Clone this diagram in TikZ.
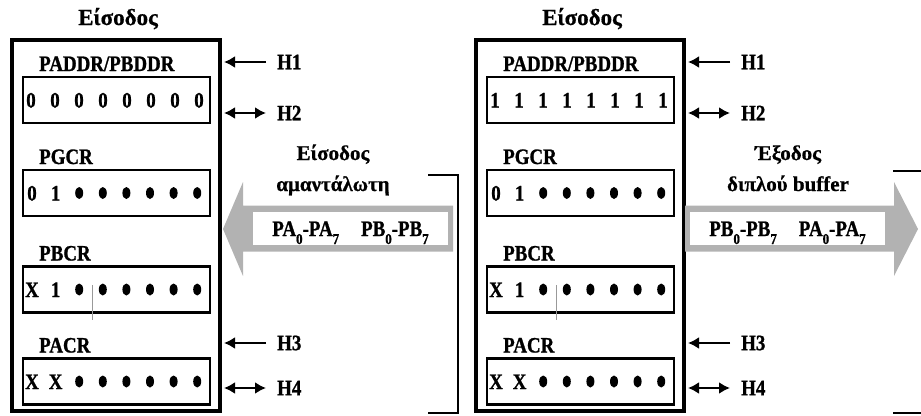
\documentclass[tikz,border=0pt]{standalone}
\usepackage{fontspec}
\setmainfont{Liberation Serif}[FakeStretch=0.86,FakeBold=1]
\newfontfamily\wide{Liberation Serif}[FakeBold=0.6]
\usetikzlibrary{arrows.meta}

% lowered index for the port pins
\newcommand\idx[1]{\raisebox{-8pt}{\fontsize{15}{15}\selectfont#1}}

\begin{document}
\begin{tikzpicture}[x=1pt,y=-1pt,font=\bfseries,
  panel/.style={draw,line width=4pt,minimum width=208pt,minimum height=371pt,inner sep=0pt},
  reg/.style={draw,line width=2.6pt,minimum width=187pt,minimum height=46pt,inner sep=0pt},
  lbl/.style={font=\fontsize{22}{22}\selectfont\bfseries,inner sep=0pt},
  bit/.style={lbl,anchor=base},
  hsig/.style={lbl,anchor=west,inner xsep=11pt},
  ttl/.style={font=\wide\fontsize{21}{24}\selectfont\bfseries,inner sep=0pt,anchor=base},
  head/.style={ttl,font=\wide\fontsize{23}{24}\selectfont\bfseries},
  sig/.style={line width=2.5pt,-{Latex[length=11pt,width=12pt]},shorten >=2pt},
  ack/.style={line width=2.5pt,{Latex[length=11pt,width=12pt]}-{Latex[length=11pt,width=12pt]},shorten >=2pt},
  flow/.style={fill=black!30},
  bus/.style={lbl,fill=white,minimum width=195pt,minimum height=33pt,text height=15pt,text depth=0pt}
]
\useasboundingbox (0,0) rectangle (921,415);

% the two ports, input mode on the left, output mode on the right
\foreach \s/\dx/\b in {L/0/0,R/464/1}{
\begin{scope}[xshift=\dx]
  \node[panel] (\s) at (116,225.5) {};
  \node[head] (\s t) at (118,25) {Είσοδος};

  % registers
  \foreach \n/\y/\name in {1/100/{PADDR/PBDDR},2/193/PGCR,3/289.5/PBCR,4/381.5/PACR}{
    \node[reg] (\s\n) at (116.5,\y) {};
    \node[lbl,anchor=base west] (\s\n l) at (39,\y-29) {\name};
  }
  \foreach \i in {0,...,7}
    \node[bit] at (31+24*\i,107.5) {\b};
  \foreach \n/\y/\a/\c in {2/193/0/1,3/289.5/X/1,4/381.5/X/X}{
    \node[bit] at (32,\y+7.5) {\a};
    \node[bit] at (55.6,\y+7.5) {\c};
    \foreach \i in {2,...,7}
      \fill (32+23.6*\i,\y) ellipse (4 and 6);
  }
  \draw[black!40,line width=0.6pt] (92,285) -- (92,320);

  % handshake lines
  \foreach \h/\y in {1/62,3/343}{
    \node[hsig] (\s h\h) at (266,\y) {H\h};
    \draw[sig] (\s h\h.west) -- (\s h\h -| \s.east);
  }
  \foreach \h/\y in {2/113,4/388}{
    \node[hsig] (\s h\h) at (266,\y) {H\h};
    \draw[ack] (\s h\h.west) -- (\s h\h -| \s.east);
  }
\end{scope}
}

% data into port
\fill[flow] (223,229) -- (243,182) -- (243,205.5) -- (453,205.5) -- (453,251.5)
  -- (243,251.5) -- (243,276) -- cycle;
\node[bus] (inbus) at (350.5,228.5) {PA\idx{0}-PA\idx{7}\quad PB\idx{0}-PB\idx{7}};
\node[ttl] (in1) at (333,160) {Είσοδος};
\node[ttl] (in2) at (333,191) {αμαντάλωτη};
\draw[line width=2.8pt] (428,175) -- (458,175) -- (458,413) -- (428,413);

% data out of port
\fill[flow] (685,205.5) -- (894,205.5) -- (894,182) -- (918,229) -- (894,276)
  -- (894,251.5) -- (685,251.5) -- cycle;
\node[bus] (outbus) at (787.5,228.5) {PB\idx{0}-PB\idx{7}\quad PA\idx{0}-PA\idx{7}};
\node[ttl] (out1) at (788,160) {Έξοδος};
\node[ttl] (out2) at (788,191) {διπλού buffer};
\draw[line width=2.8pt] (893,171) -- (921,171) (893,413) -- (921,413);
\end{tikzpicture}
\end{document}
